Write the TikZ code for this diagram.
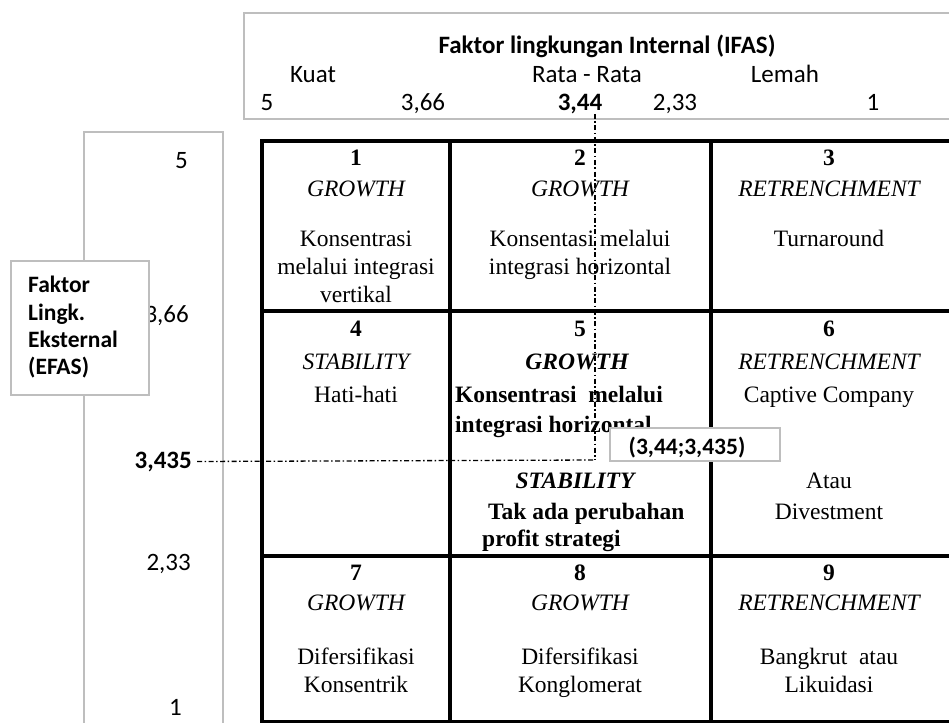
\documentclass[tikz,border=0pt]{standalone}
\usepackage{fontspec}
\setmainfont{Liberation Serif}
\newfontfamily\carl{Carlito}
\definecolor{boxgray}{RGB}{190,190,190}
\newcommand{\gsz}{\fontsize{23.5}{27}\selectfont}
\newcommand{\hsz}{\carl\fontsize{25}{30}\selectfont}
\newcommand{\esz}{\carl\fontsize{23.5}{28}\selectfont}
\begin{document}
\begin{tikzpicture}[x=1pt,y=-1pt,
  gbox/.style={draw=boxgray, line width=1.8pt},
  gridline/.style={line width=4.5pt},
  num/.style={font=\gsz\bfseries, anchor=base, inner sep=0pt},
  lbl/.style={font=\gsz\itshape, anchor=base, inner sep=0pt},
  blbl/.style={font=\gsz\bfseries\itshape, anchor=base, inner sep=0pt},
  txt/.style={font=\gsz, anchor=base, inner sep=0pt},
  btxt/.style={font=\gsz\bfseries, anchor=base, inner sep=0pt},
  hd/.style={font=\hsz, anchor=base, inner sep=0pt},
  hdb/.style={font=\hsz\bfseries, anchor=base, inner sep=0pt},
  ed/.style={font=\esz\bfseries, anchor=base west, inner sep=0pt},
  guide/.style={line width=1.3pt, dash pattern=on 5pt off 2.5pt on 1.5pt off 2.5pt}]
\useasboundingbox (0,0) rectangle (949,722);
\clip (0,0) rectangle (949,722);
\fill[white] (0,0) rectangle (949,722);

% header box
\draw[gbox] (244,13) rectangle (970,119);
\node[hdb] (title) at (607,54) {Faktor lingkungan Internal (IFAS)};
\node[hd] (kuat) at (313,83) {Kuat};
\node[hd] (rata) at (587,83) {Rata - Rata};
\node[hd] (lemah) at (785,83) {Lemah};
\node[hd] (h5) at (267,111) {5};
\node[hd] (h366) at (423,111) {3,66};
\node[hdb] (h344) at (580,111) {3,44};
\node[hd] (h233) at (675,111) {2,33};
\node[hd] (h1) at (873,111) {1};

% left axis box
\draw[gbox] (84,132) rectangle (223,760);
\node[hd,anchor=base east] (v5) at (188,168) {5};
\node[hd,anchor=base east] (v366) at (189,322) {3,66};
\node[hdb,anchor=base east] (v3435) at (192,468) {3,435};
\node[hd,anchor=base east] (v233) at (191,570) {2,33};
\node[hd,anchor=base east] (v1) at (182,715) {1};

% EFAS box
\draw[gbox, fill=white] (11,261) rectangle (149,395);
\node[ed] (e1) at (28,292) {Faktor};
\node[ed] (e2) at (28,320) {Lingk.};
\node[ed] (e3) at (28,347) {Eksternal};
\node[ed] (e4) at (28,374) {(EFAS)};

% grid
\draw[gridline] (262,141) rectangle (955,722.5);
\draw[gridline] (450,141) -- (450,722.5);
\draw[gridline] (711,141) -- (711,722.5);
\draw[gridline] (262,311) -- (955,311);
\draw[gridline] (262,556) -- (955,556);

% row 1
\node[num] (n1) at (356,166) {1};
\node[lbl] (g1) at (356,196) {GROWTH};
\node[txt] (t1a) at (356,246) {Konsentrasi};
\node[txt] (t1b) at (356,274) {melalui integrasi};
\node[txt] (t1c) at (356,302) {vertikal};

\node[num] (n2) at (580,166) {2};
\node[lbl] (g2) at (580,196) {GROWTH};
\node[txt] (t2a) at (580,246) {Konsentasi melalui};
\node[txt] (t2b) at (580,274) {integrasi horizontal};

\node[num] (n3) at (829,166) {3};
\node[lbl] (g3) at (829,196) {RETRENCHMENT};
\node[txt] (t3a) at (829,246) {Turnaround};

% row 2
\node[num] (n4) at (356,336) {4};
\node[lbl] (g4) at (356,369) {STABILITY};
\node[txt] (t4a) at (356,402) {Hati-hati};

\node[num] (n5) at (580,336) {5};
\node[blbl] (g5) at (577,369) {GROWTH};
\node[btxt,anchor=base west] (t5a) at (455,402) {Konsentrasi\ \ melalui};
\node[btxt,anchor=base west] (t5b) at (455,432) {integrasi horizontal};
\node[blbl] (s5) at (575,488) {STABILITY};
\node[btxt,anchor=base west] (t5c) at (488,519) {Tak ada perubahan};
\node[btxt,anchor=base west] (t5d) at (482,546) {profit strategi};

\node[num] (n6) at (829,336) {6};
\node[lbl] (g6) at (829,369) {RETRENCHMENT};
\node[txt] (t6a) at (829,402) {Captive Company};
\node[txt] (t6b) at (829,488) {Atau};
\node[txt] (t6c) at (829,519) {Divestment};

% row 3
\node[num] (n7) at (356,580) {7};
\node[lbl] (g7) at (356,610) {GROWTH};
\node[txt] (t7a) at (356,664) {Difersifikasi};
\node[txt] (t7b) at (356,692) {Konsentrik};

\node[num] (n8) at (580,580) {8};
\node[lbl] (g8) at (580,610) {GROWTH};
\node[txt] (t8a) at (580,664) {Difersifikasi};
\node[txt] (t8b) at (580,692) {Konglomerat};

\node[num] (n9) at (829,580) {9};
\node[lbl] (g9) at (829,610) {RETRENCHMENT};
\node[txt] (t9a) at (829,664) {Bangkrut\ \ atau};
\node[txt] (t9b) at (829,692) {Likuidasi};

% coordinate label
\draw[gbox, fill=white] (610,428) rectangle (780,461);
\node[font=\esz\bfseries, anchor=base, inner sep=0pt] (pt) at (687,454) {(3,44;3,435)};

% guide lines
\coordinate (vtop) at (595,114);
\coordinate (p) at (595,460);
\coordinate (hleft) at (v3435.east);
\draw[guide] (vtop) -- (p);
\draw[guide] ([xshift=5pt]hleft) -- (p);
\end{tikzpicture}
\end{document}
